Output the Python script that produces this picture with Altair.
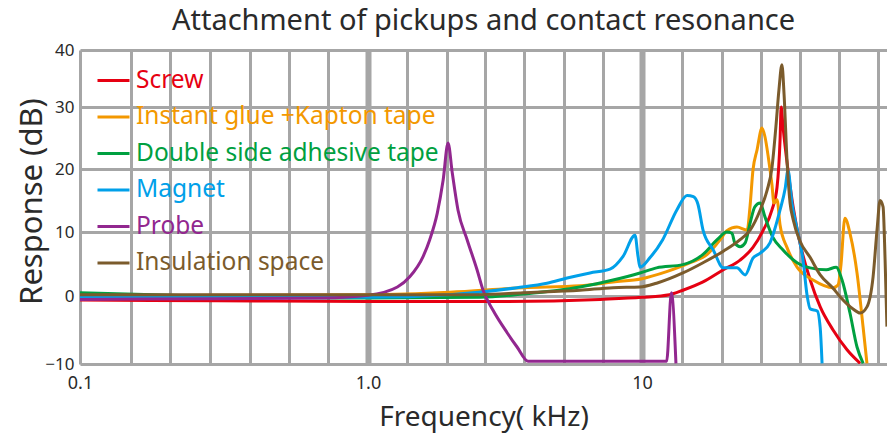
import altair as alt
import pandas as pd
import numpy as np

# ---------------- data ----------------
series_names = ["Screw", "Instant glue +Kapton tape", "Double side adhesive tape",
                "Magnet", "Probe", "Insulation space"]
series_colors = ["#e60012", "#f39800", "#00a040", "#00a0e9", "#92278f", "#7b5b2c"]

screw_khz = [0.1, 0.3, 1.0, 3.03, 7.03, 10, 12.6, 14.1, 16.7, 19.8, 22.8, 25.4, 27.7, 29.8,
             31.1, 31.9, 32.2, 32.7, 34.1, 35.6, 37.7, 41.1, 44.7, 49.8, 56.0, 62.5]
screw_db = [-0.6, -0.7, -0.8, -0.8, -0.5, -0.2, 0.2, 0.9, 2.2, 4.1, 5.6, 7.6, 10.3, 13.5,
            17.1, 24.7, 30.0, 26.8, 19.8, 14.0, 8.3, 2.5, -1.6, -5.0, -7.9, -9.9]

glue_khz = [0.1, 0.3, 1.0, 1.99, 3.68, 5.94, 7.84, 10, 12.3, 15.0, 17.3, 19.3, 20.4, 22.2,
            24.2, 24.8, 25.4, 26.3, 27.4, 28.1, 28.9, 29.8, 30.3, 31.1, 31.9, 33.8, 36.8,
            42.1, 49.8, 51.9, 53.2, 55.0, 57.4, 60.9, 64.1, 66.2]
glue_db = [0.0, 0.1, 0.2, 0.6, 1.3, 1.6, 2.2, 2.7, 3.8, 5.2, 6.5, 8.8, 10.2, 10.8,
           10.3, 14.2, 19.8, 23.1, 26.6, 25.2, 21.9, 17.5, 14.6, 15.1, 11.1, 7.6, 4.5,
           2.5, 1.3, 1.7, 4.8, 12.2, 9.8, 3.6, -4.6, -9.9]

tape_khz = [0.1, 0.26, 1.0, 2.56, 3.68, 5.94, 7.84, 9.83, 11.3, 14.1, 16.7, 18.8, 20.4, 21.3,
            21.8, 22.8, 23.8, 24.8, 25.8, 27.0, 28.1, 30.0, 32.7, 36.8, 41.1, 47.0, 51.1,
            53.7, 57.4, 60.9, 64.1]
tape_db = [0.5, 0.0, -0.3, -0.2, 0.3, 1.4, 2.5, 3.6, 4.4, 4.9, 6.5, 8.8, 10.0, 9.8,
           8.3, 7.7, 8.3, 11.4, 14.0, 14.6, 12.4, 9.2, 7.2, 5.2, 4.4, 4.1, 4.5,
           2.5, -2.5, -7.5, -9.9]

magnet_khz = [0.1, 0.3, 1.0, 1.99, 3.50, 4.50, 5.33, 6.46, 7.64, 8.53, 9.43, 9.67, 9.83, 10.7,
              11.9, 13.4, 14.6, 15.4, 16.0, 16.7, 18.2, 19.8, 22.2, 23.8, 25.4, 27.0, 29.3,
              31.9, 33.3, 34.1, 35.3, 36.8, 38.7, 40.0, 41.1, 43.6, 44.7, 45.4]
magnet_db = [-0.2, -0.2, -0.2, 0.2, 1.3, 2.0, 2.8, 3.6, 4.2, 6.2, 9.5, 6.2, 4.5, 6.0,
             8.8, 13.5, 15.8, 15.6, 14.4, 10.3, 7.2, 4.4, 4.4, 3.3, 5.9, 6.7, 8.3,
             13.5, 16.9, 19.8, 14.4, 10.5, 5.6, 0.2, -1.9, -2.2, -4.7, -9.9]

probe_khz = [0.1, 0.3, 0.7, 1.0, 1.28, 1.42, 1.59, 1.68, 1.79, 1.88, 1.96, 2.03, 2.13, 2.30,
             2.50, 2.63, 2.86, 3.22, 3.50, 3.84, 12.3, 12.8, 13.3]
probe_db = [-0.5, -0.4, -0.3, 0.1, 1.4, 3.0, 6.2, 8.8, 13.0, 18.2, 24.2, 19.4, 13.5, 8.8,
            4.1, 0.9, -2.1, -5.4, -7.5, -9.6, -9.6, 0.5, -9.9]

insul_khz = [0.1, 0.3, 1.0, 2.56, 3.68, 5.94, 7.84, 9.83, 11.3, 14.1, 16.7, 19.8, 22.8, 24.8,
             27.0, 28.6, 29.8, 30.8, 31.6, 32.4, 33.0, 33.8, 34.7, 35.6, 37.7, 41.1, 44.7,
             49.8, 52.8, 58.9, 62.5, 66.2, 69.7, 72.1, 73.9, 75.8, 77.1, 78.3]
insul_db = [0.2, 0.2, 0.2, 0.2, 0.5, 0.9, 1.3, 1.4, 2.0, 3.6, 5.2, 7.0, 8.8, 10.3,
            13.5, 16.6, 20.2, 26.8, 33.0, 37.4, 32.1, 21.6, 14.6, 12.0, 8.6, 6.0, 3.3,
            1.2, -0.1, -1.9, -2.5, -1.6, 3.0, 10.5, 15.0, 14.0, 5.6, -4.5]

# axis ticks / grid (kHz and dB)
x_label_khz = [0.1, 1.0, 10]
x_label_text = ["0.1", "1.0", "10"]
x_grid_khz = [0.1, 0.150, 0.205, 0.282, 0.389, 0.532, 0.726, 1.0, 1.39, 1.94, 2.67, 3.71,
              5.19, 7.20, 10, 14.0, 19.6, 27.2, 37.7, 52.4, 72.6]
y_ticks = [-10, 0, 10, 20, 30, 40]

# ---------------- table ----------------
all_khz = [screw_khz, glue_khz, tape_khz, magnet_khz, probe_khz, insul_khz]
all_db = [screw_db, glue_db, tape_db, magnet_db, probe_db, insul_db]
rows = []
for name, fs, ds in zip(series_names, all_khz, all_db):
    for f, d in zip(fs, ds):
        rows.append({"series": name, "khz": f, "db": d})
df = pd.DataFrame(rows)
df["lf"] = np.log10(df["khz"])

grid_vals = [float(np.log10(v)) for v in x_grid_khz]
label_pairs = [(float(np.log10(v)), t) for v, t in zip(x_label_khz, x_label_text)]
label_expr = ""
for v, t in label_pairs:
    label_expr += f"abs(datum.value - ({v})) < 0.001 ? '{t}' : "
label_expr += "''"
thick_test = " || ".join(f"abs(datum.value - ({v})) < 0.001" for v, _ in label_pairs[1:])

FONT = "Noto Sans"
GRID = "#a6a6a6"
TEXT = "#2a2a2a"

x_enc = alt.X(
    "lf:Q",
    scale=alt.Scale(domain=[-1, 0, 1, 1.894], range=[0, 288, 562, 807], zero=False, nice=False),
    axis=alt.Axis(
        values=grid_vals, labelExpr=label_expr, grid=True, gridColor=GRID,
        gridWidth={"condition": {"test": thick_test, "value": 6}, "value": 3},
        gridOpacity=1, ticks=False, domain=False, labelFont=FONT, labelFontSize=18,
        labelColor=TEXT, labelPadding=10, labelFlush=False, labelOverlap=False,
        title="Frequency( kHz)", titleFont=FONT, titleFontSize=28, titleFontWeight="normal",
        titleColor=TEXT, titleY=53, titleBaseline="middle",
    ),
)
y_enc = alt.Y(
    "db:Q",
    scale=alt.Scale(domain=[-10, 0, 10, 20, 30, 40], range=[314, 246, 182, 119, 57, 0],
                    zero=False, nice=False),
    axis=alt.Axis(
        values=y_ticks, grid=True, gridColor=GRID, gridWidth=3, gridOpacity=1,
        ticks=False, domain=False, labelFont=FONT, labelFontSize=17, labelColor=TEXT,
        labelPadding=6, labelFlush=False,
        title="Response (dB)", titleFont=FONT, titleFontSize=31, titleFontWeight="normal",
        titleColor=TEXT, titleX=-48, titleY=151, titleBaseline="middle", titleAngle=270,
    ),
)
color_enc = alt.Color(
    "series:N",
    scale=alt.Scale(domain=series_names, range=series_colors),
    sort=series_names,
    legend=alt.Legend(
        orient="none", legendX=16, legendY=13, title=None, symbolType="stroke",
        symbolStrokeWidth=3, symbolSize=1024, labelFont=FONT, labelFontSize=24.5,
        labelOffset=5, rowPadding=7.5, padding=0, labelLimit=500,
        labelColor={"expr": "scale('color', datum.value)"},
    ),
)

lines = alt.Chart(df).mark_line(strokeWidth=3, interpolate="monotone", clip=True).encode(
    x=x_enc, y=y_enc, color=color_enc, order=alt.Order("lf:Q")
)

chart = alt.layer(lines).properties(
    width=807, height=314,
    padding={"left": 80, "top": 50, "right": 0, "bottom": 74},
    autosize=alt.AutoSizeParams(type="none"),
    title=alt.TitleParams("Attachment of pickups and contact resonance", font=FONT,
                          fontSize=29, fontWeight="normal", color=TEXT, anchor="middle",
                          frame="group", offset=5),
).configure_view(stroke=None).configure(background="white")

chart.save("out.html", embed_options={"renderer": "svg", "actions": False})
